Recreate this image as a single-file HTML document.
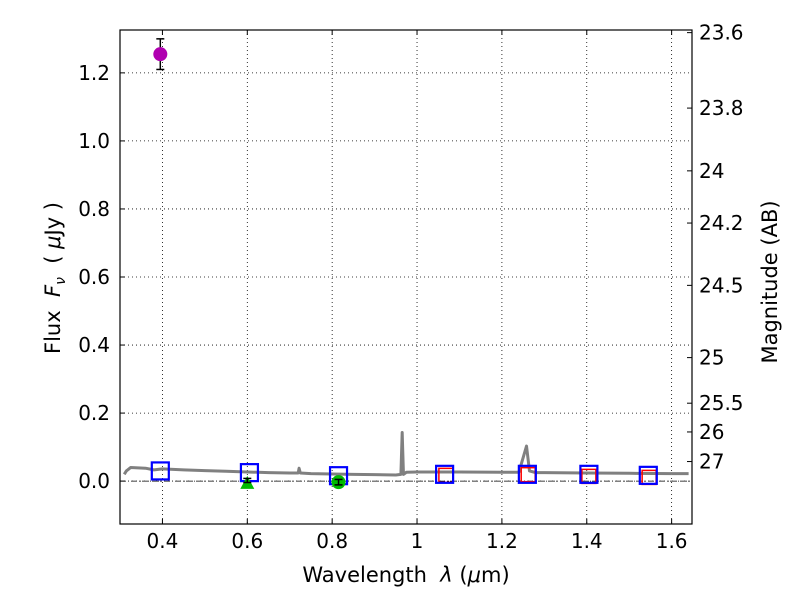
<!DOCTYPE html>
<html><head><meta charset="utf-8"><style>
body{margin:0;background:#fff}
svg{font-family:"DejaVu Sans","Liberation Sans",sans-serif}
</style></head><body>
<svg id="c" width="800" height="600" viewBox="0 0 800 600"></svg>
<script>
const xTicks=[0.4,0.6,0.8,1.0,1.2,1.4,1.6];
const xTickLabels=["0.4","0.6","0.8","1","1.2","1.4","1.6"];
const yTicks=[0.0,0.2,0.4,0.6,0.8,1.0,1.2];
const yTickLabels=["0.0","0.2","0.4","0.6","0.8","1.0","1.2"];
const magTicks=[23.6,23.8,24,24.2,24.5,25,25.5,26,27];
const specWave=[0.31,0.315,0.325,0.36,0.38,0.40,0.45,0.5,0.55,0.6,0.65,0.7,0.72,0.722,0.725,0.75,0.8,0.85,0.9,0.95,0.962,0.965,0.968,0.975,1.0,1.1,1.2,1.24,1.258,1.265,1.28,1.3,1.4,1.5,1.6,1.64];
const specFlux=[0.02,0.03,0.04,0.038,0.033,0.036,0.033,0.031,0.029,0.027,0.025,0.024,0.024,0.038,0.024,0.022,0.021,0.02,0.019,0.018,0.02,0.143,0.02,0.026,0.027,0.027,0.026,0.026,0.103,0.03,0.025,0.025,0.024,0.023,0.022,0.022];
const modelWave=[0.395,0.605,0.815,1.065,1.26,1.405,1.545];
const modelFlux=[0.03,0.025,0.016,0.02,0.02,0.02,0.017];
const obsRedWave=[1.068,1.262,1.405,1.547];
const obsRedFlux=[0.017,0.019,0.014,0.011];
const magentaWave=[0.395], magentaFlux=[1.255], magentaErr=[0.045];
const triWave=[0.6], triFlux=[-0.008], triErr=[0.006];
const circWave=[0.815], circFlux=[-0.003], circErr=[0.008];

const L=120,R=692,T=30,B=524,x0=0.3,x1=1.648,y0=-0.126,y1=1.326;
const X=v=>L+(v-x0)/(x1-x0)*(R-L);
const Y=v=>B-(v-y0)/(y1-y0)*(B-T);
const svg=document.getElementById('c');
const NS="http://www.w3.org/2000/svg";
function mk(t,a,p){const e=document.createElementNS(NS,t);for(const k in a)e.setAttribute(k,a[k]);(p||svg).appendChild(e);return e;}

xTicks.forEach((v,i)=>{
 const g=mk('line',{x1:X(v),x2:X(v),y1:T,y2:B,stroke:'#000','stroke-width':0.8,'stroke-dasharray':'1,3'});
 
 
 mk('line',{x1:X(v),x2:X(v),y1:B,y2:B-5,stroke:'#000'});
 mk('line',{x1:X(v),x2:X(v),y1:T,y2:T+5,stroke:'#000'});
 const t=mk('text',{x:X(v),y:B+24,'font-size':20,'text-anchor':'middle'});t.textContent=xTickLabels[i];
 
 
});
yTicks.forEach((v,i)=>{
 const g=mk('line',{x1:L,x2:R,y1:Y(v),y2:Y(v),stroke:'#000','stroke-width':0.8,'stroke-dasharray':'1,3'});
 
 
 mk('line',{x1:L,x2:L+5,y1:Y(v),y2:Y(v),stroke:'#000'});
 const t=mk('text',{x:L-10,y:Y(v)+7,'font-size':20,'text-anchor':'end'});t.textContent=yTickLabels[i];
 
 
});
const z=mk('line',{x1:L,x2:R,y1:Y(0),y2:Y(0),stroke:'#000','stroke-width':0.8,'stroke-dasharray':'6,2,1,2'});


magTicks.forEach(m=>{
 const f=Math.pow(10,(23.9-m)/2.5);
 mk('line',{x1:R-5,x2:R,y1:Y(f),y2:Y(f),stroke:'#000'});
 const t=mk('text',{x:R+7,y:Y(f)+7,'font-size':20});t.textContent=String(m);
 
 
});
const sp=mk('polyline',{points:specWave.map((w,i)=>X(w)+','+Y(specFlux[i])).join(' '),fill:'none',stroke:'#808080','stroke-width':3,'stroke-linejoin':'round'});


obsRedWave.forEach((w,i)=>{
 const r=mk('rect',{x:X(w)-7,y:Y(obsRedFlux[i])-7,width:14,height:14,fill:'none',stroke:'#f00','stroke-width':1.5});
 
 
});
modelWave.forEach((w,i)=>{
 const r=mk('rect',{x:X(w)-8.5,y:Y(modelFlux[i])-8.5,width:17,height:17,fill:'none',stroke:'#00f','stroke-width':2.2});
 
 
});
function errbar(w,f,e){
 mk('line',{x1:X(w),x2:X(w),y1:Y(f+e),y2:Y(f-e),stroke:'#000','stroke-width':1.5});
 mk('line',{x1:X(w)-4,x2:X(w)+4,y1:Y(f+e),y2:Y(f+e),stroke:'#000','stroke-width':1.5});
 mk('line',{x1:X(w)-4,x2:X(w)+4,y1:Y(f-e),y2:Y(f-e),stroke:'#000','stroke-width':1.5});
}
triWave.forEach((w,i)=>{
 const p=mk('polygon',{points:`${X(w)},${Y(triFlux[i])-8} ${X(w)-7},${Y(triFlux[i])+5} ${X(w)+7},${Y(triFlux[i])+5}`,fill:'#00bb00'});
 
 
 errbar(w,triFlux[i]+0.01,triErr[i]);
});
circWave.forEach((w,i)=>{
 const c=mk('circle',{cx:X(w),cy:Y(circFlux[i]),r:7,fill:'#00bb00'});
 
 
 errbar(w,circFlux[i],circErr[i]);
});
magentaWave.forEach((w,i)=>{
 errbar(w,magentaFlux[i],magentaErr[i]);
 const c=mk('circle',{cx:X(w),cy:Y(magentaFlux[i]),r:7,fill:'#b000b0'});
 
 
});
const fr=mk('rect',{x:L,y:T,width:R-L,height:B-T,fill:'none',stroke:'#000','stroke-width':1.2});


let t=mk('text',{x:406,y:582,'font-size':21,'text-anchor':'middle'});
t.innerHTML='Wavelength\u00a0\u00a0<tspan font-style="italic">λ</tspan> (<tspan font-style="italic">μ</tspan>m)';


t=mk('text',{x:0,y:0,'font-size':21,'text-anchor':'middle',transform:'translate(60,278) rotate(-90)'});
t.innerHTML='Flux\u00a0\u00a0<tspan font-style="italic">F</tspan><tspan font-style="italic" font-size="14" dy="5">ν</tspan><tspan dy="-5">\u00a0\u00a0(\u00a0</tspan><tspan font-style="italic">μ</tspan>Jy )';


t=mk('text',{x:0,y:0,'font-size':21,'text-anchor':'middle',transform:'translate(777,282) rotate(-90)'});
t.textContent='Magnitude (AB)';


</script>
</body></html>
